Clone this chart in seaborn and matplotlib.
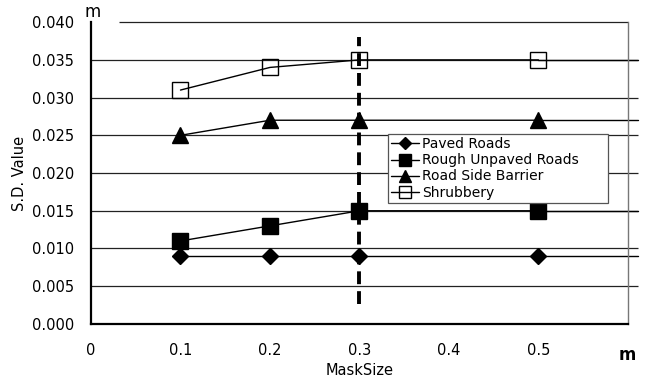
import pandas as pd
import seaborn as sns
import matplotlib.pyplot as plt

# Data
mask_sizes = [0.1, 0.2, 0.3, 0.5]
paved = [0.009, 0.009, 0.009, 0.009]
rough_unpaved = [0.011, 0.013, 0.015, 0.015]
road_side_barrier = [0.025, 0.027, 0.027, 0.027]
shrubbery = [0.031, 0.034, 0.035, 0.035]

series_names = ["Paved Roads", "Rough Unpaved Roads", "Road Side Barrier", "Shrubbery"]
series_values = [paved, rough_unpaved, road_side_barrier, shrubbery]
markers = ["D", "s", "^", "s"]
marker_sizes = [8.5, 11, 12, 11]
marker_faces = ["black", "black", "black", "none"]

x_ticks = [0, 0.1, 0.2, 0.3, 0.4, 0.5]
x_tick_labels = ["0", "0.1", "0.2", "0.3", "0.4", "0.5"]
y_ticks = [0.000, 0.005, 0.010, 0.015, 0.020, 0.025, 0.030, 0.035, 0.040]
cut_off = 0.3

df = pd.DataFrame({"MaskSize": mask_sizes})
for name, vals in zip(series_names, series_values):
    df[name] = vals

sns.set_style("white")
plt.rcParams['font.family'] = ['DejaVu Sans']
plt.rcParams['text.color'] = 'black'
plt.rcParams['axes.labelcolor'] = 'black'
plt.rcParams['xtick.color'] = 'black'
plt.rcParams['ytick.color'] = 'black'

fig = plt.figure(figsize=(6.5, 3.82), dpi=100)
ax = fig.add_axes([0.14, 0.152, 0.826, 0.79])

x_max = 0.6
x_ext = 0.611

# horizontal grid lines, running a bit past the right frame
ax.hlines(y_ticks[1:-1], 0, x_ext, color="#222222", lw=0.9, clip_on=False, zorder=1)
ax.hlines(y_ticks[-1], 0.031, x_max, color="#222222", lw=0.9, clip_on=False, zorder=1)

for name, m, ms, fc in zip(series_names, markers, marker_sizes, marker_faces):
    sns.lineplot(data=df, x="MaskSize", y=name, ax=ax, color="black", lw=1.0,
                 marker=m, markersize=ms, markerfacecolor=fc, markeredgecolor="black",
                 markeredgewidth=1.0, label=name, zorder=3)
    # line continues past the last point
    ax.plot([df["MaskSize"].iloc[-1], x_ext], [df[name].iloc[-1]] * 2,
            color="black", lw=1.0, clip_on=False, zorder=2)

ax.plot([cut_off, cut_off], [0.0027, 0.038], color="black", lw=2.8,
        dashes=(3.3, 1.8), zorder=4)

ax.set_xlim(0, x_max)
ax.set_ylim(0, 0.04)
ax.set_xticks(x_ticks)
ax.set_xticklabels(x_tick_labels, fontsize=10.5)
ax.set_yticks(y_ticks)
ax.set_yticklabels([f"{v:.3f}" for v in y_ticks], fontsize=10.5)
ax.tick_params(axis="x", direction="in", length=5, width=1, pad=14)
ax.tick_params(axis="y", direction="in", length=4, width=1, pad=12)
ax.xaxis.get_major_ticks()[0].tick1line.set_visible(False)
ax.yaxis.get_major_ticks()[0].tick1line.set_visible(False)

for side in ["left", "bottom"]:
    ax.spines[side].set_color("black")
    ax.spines[side].set_linewidth(1.6)
ax.spines["top"].set_visible(False)
ax.spines["right"].set_color("#777777")
ax.spines["right"].set_linewidth(1.0)

ax.set_xlabel("MaskSize", fontsize=10.5, labelpad=3)
ax.set_ylabel("S.D. Value", fontsize=10.5, labelpad=4)

fig.text(93 / 650, 1 - 12 / 382, "m", fontsize=12, ha="center", va="center")
fig.text(627 / 650, 1 - 355 / 382, "m", fontsize=12, fontweight="bold", ha="center", va="center")

leg = ax.legend(loc="upper left", bbox_to_anchor=(0.553, 0.43, 0.41, 0.2), mode="expand",
                fontsize=10, frameon=True, fancybox=False, framealpha=1,
                edgecolor="#555555", handlelength=2.0, handletextpad=0.2,
                labelspacing=0.15, borderpad=0.25, borderaxespad=0, markerscale=0.75)
leg.get_frame().set_linewidth(0.9)
leg.set_zorder(5)
for t in leg.get_texts():
    t.set_color("black")

fig.savefig("out.png", dpi=100)
